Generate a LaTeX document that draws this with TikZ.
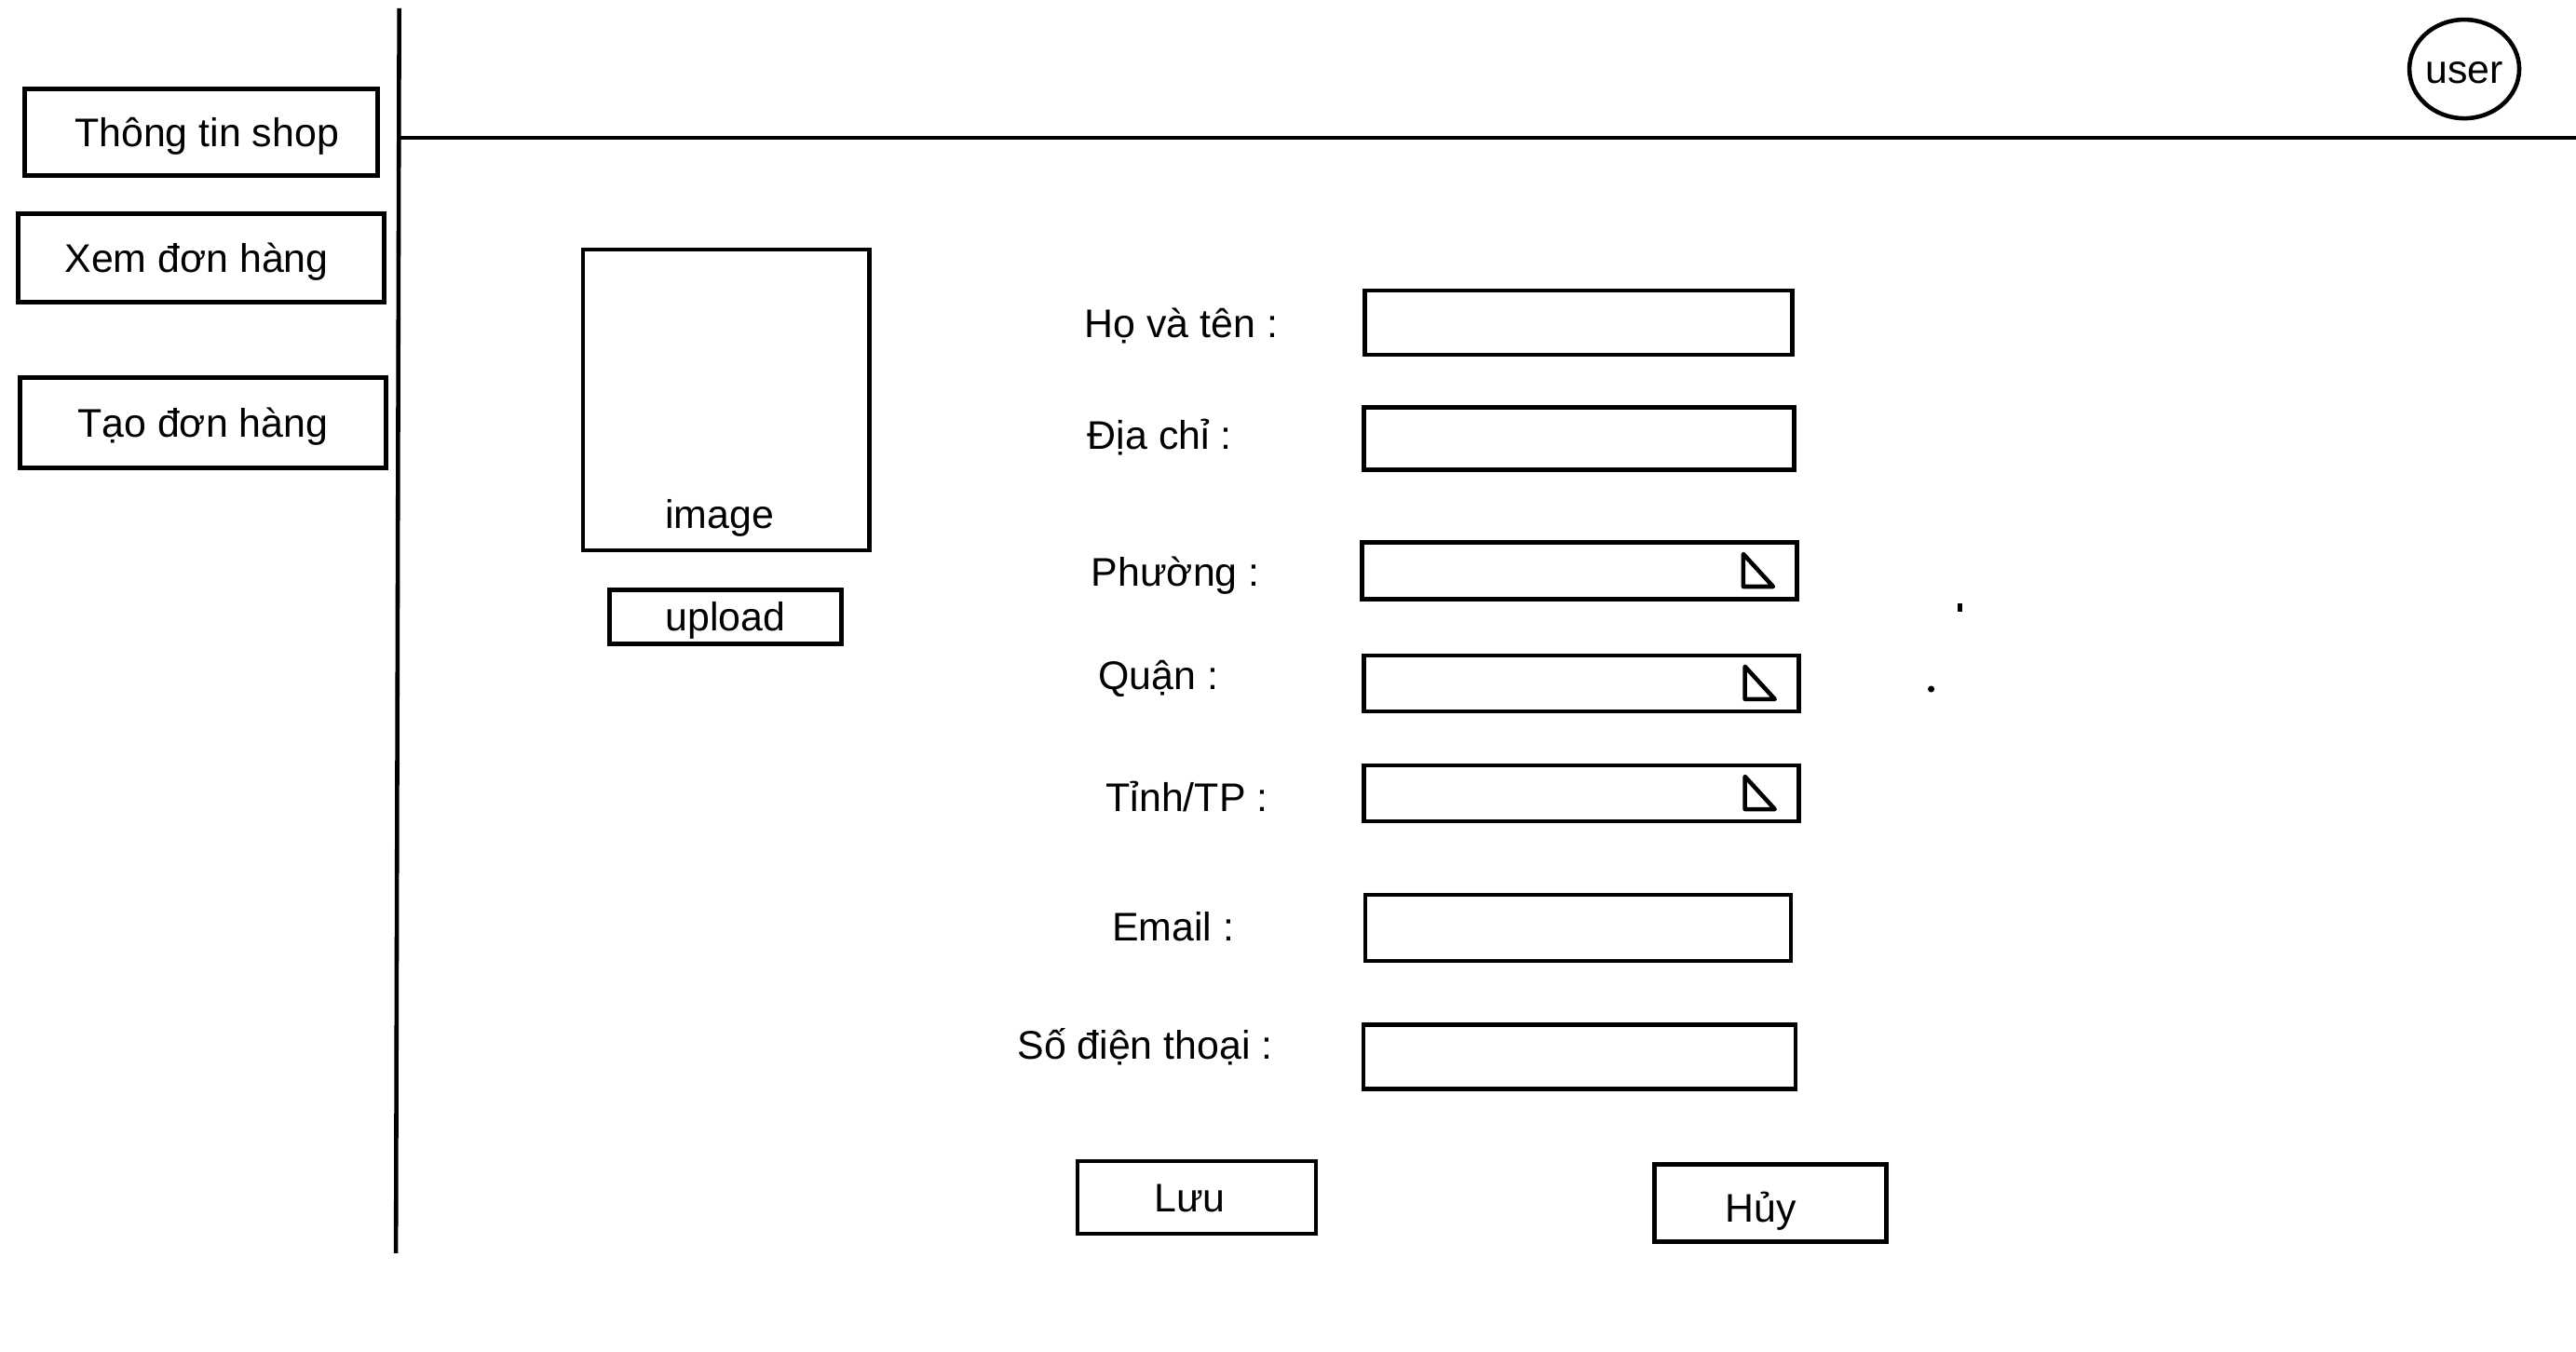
\documentclass[tikz,border=0pt]{standalone}
\usepackage{fontspec}
\setmainfont{Liberation Sans}
\usepackage{tikz}
\usetikzlibrary{shapes.geometric, positioning}
\newcommand{\uifont}{\fontsize{12.2}{14}\selectfont}
\tikzset{
  uitext/.style={font=\uifont, text height=10pt, text depth=1.2pt, align=center},
  menubox/.style={uitext, rectangle, draw=black, line width=1.3pt, minimum width=3.93cm, minimum height=0.95cm},
  fieldbox/.style={rectangle, draw=black, line width=1.3pt, minimum width=4.6cm, minimum height=0.68cm},
  selectbox/.style={rectangle, draw=black, line width=1.3pt, minimum width=4.67cm, minimum height=0.61cm},
  btnbox/.style={uitext, rectangle, draw=black, line width=1.3pt, minimum width=2.5cm, minimum height=0.8cm},
  formlabel/.style={uitext, inner sep=0pt},
  userbubble/.style={uitext, ellipse, draw=black, line width=1.3pt, minimum width=1.16cm, minimum height=1.06cm, inner sep=0pt}
}
\begin{document}
\begin{tikzpicture}[x=0.01764cm, y=-0.01764cm, line width=1.3pt]
  \useasboundingbox (0,0) rectangle (1568,823);

  % Frame
  \draw (243,5) -- (241,763);
  \draw (243,84) -- (1568,84);
  \node[userbubble] (user) at (1500,42) {user};

  % Side menu
  \node[menubox, minimum width=3.79cm, minimum height=0.93cm] (shopinfo) at (122.5,80.5) {\hspace{0.12cm}Thông tin shop};
  \node[menubox] (vieworder) at (122.5,157) {Xem đơn hàng\hspace{0.1cm}};
  \node[menubox, minimum height=0.97cm] (neworder) at (123.5,257.5) {Tạo đơn hàng};

  % Image
  \node[rectangle, draw=black, line width=1.3pt, minimum width=3.07cm, minimum height=3.23cm] (imgbox) at (442,243.5) {};
  \node[formlabel] (imglbl) at (438,313) {image};
  \node[btnbox, minimum width=2.49cm, minimum height=0.58cm, inner sep=0pt] (upload) at (441.5,375.5) {upload};

  % Form labels
  \node[formlabel] (lname) at (719,197) {Họ và tên :};
  \node[formlabel] (laddr) at (706,265) {Địa chỉ :};
  \node[formlabel] (lward) at (715.5,348) {Phường :};
  \node[formlabel] (ldist) at (705,411) {Quận :};
  \node[formlabel] (lcity) at (722.5,485) {Tỉnh/TP :};
  \node[formlabel] (lmail) at (714,564) {Email :};
  \node[formlabel] (lphone) at (697,636) {Số điện thoại :};

  % Form fields
  \node[fieldbox, minimum width=4.59cm, minimum height=0.69cm] (fname) at (961,196.5) {};
  \node[fieldbox, minimum width=4.62cm, minimum height=0.67cm] (faddr) at (961,267) {};
  \node[selectbox] (fward) at (961.5,347.5) {};
  \node[selectbox, minimum height=0.6cm] (fdist) at (962.5,416) {};
  \node[selectbox, minimum height=0.6cm] (fcity) at (962.5,483) {};
  \node[fieldbox, minimum width=4.57cm, minimum height=0.71cm] (fmail) at (960.5,565) {};
  \node[fieldbox, minimum width=4.64cm, minimum height=0.69cm] (fphone) at (961.5,643.5) {};

  % Dropdown marks
  \foreach \s in {fward,fdist,fcity}
    \draw[line join=round] ([shift={(-0.6cm,0.18cm)}]\s.east) -- ++(0,-0.35cm) -- ++(0.32cm,0) -- cycle;

  % Stray marks
  \fill (1191.5,367.5) rectangle (1194.5,372.5);
  \fill (1175.5,419.5) circle (2);

  % Buttons
  \node[btnbox, minimum width=2.56cm, minimum height=0.78cm] (save) at (728.5,729) {Lưu\hspace{0.15cm}};
  \node[btnbox, minimum width=2.49cm, minimum height=0.83cm] (cancel) at (1077.5,732.5) {\raisebox{-0.05cm}{Hủy}\hspace{0.2cm}};
\end{tikzpicture}
\end{document}
